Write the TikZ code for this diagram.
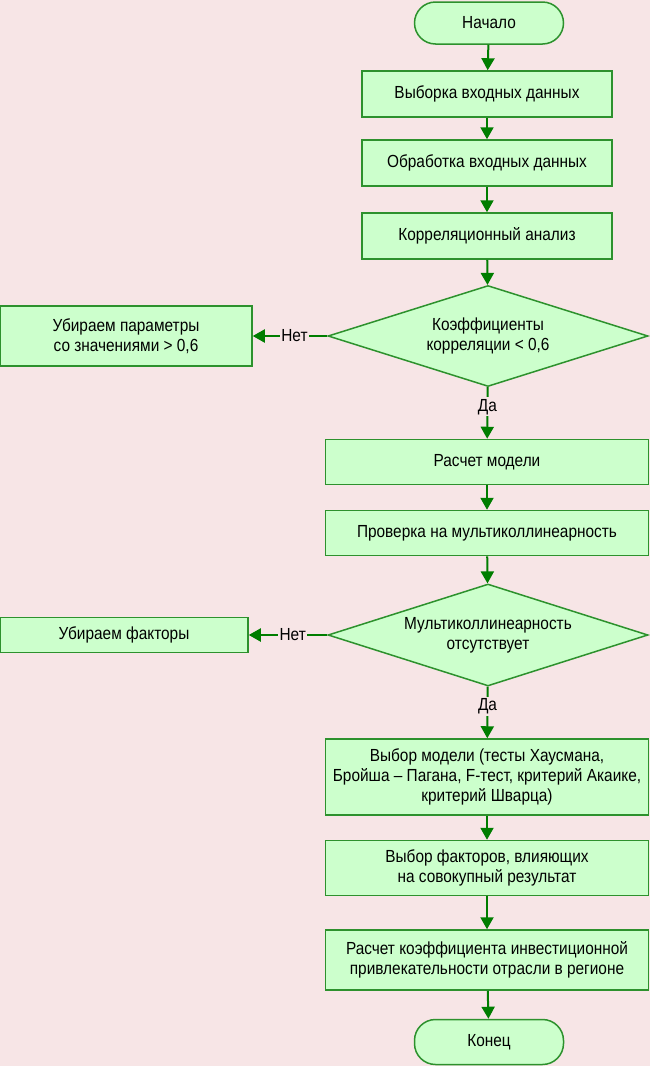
\documentclass[tikz,border=0pt]{standalone}
\usepackage{fontspec}
\setmainfont{Liberation Sans}[FakeStretch=0.88]
\usetikzlibrary{shapes.geometric, arrows.meta, positioning, calc}
\definecolor{bgpink}{RGB}{247,229,230}
\definecolor{boxfill}{RGB}{204,255,204}
\definecolor{boxline}{RGB}{45,145,45}
\definecolor{arrowgreen}{RGB}{0,125,0}

\begin{document}
\begin{tikzpicture}[x=1pt, y=-1pt,
    font=\fontsize{17.5}{20}\selectfont,
    block/.style={draw=boxline, fill=boxfill, line width=1.5pt, align=center, inner sep=0pt},
    term/.style={block, rounded corners=21pt},
    decision/.style={block, diamond, aspect=3.2},
    flow/.style={draw=arrowgreen, line width=2pt, -{Triangle[length=12pt, width=13pt]}},
    lbl/.style={fill=bgpink, inner sep=1.5pt, text=black}]

% Background and frame
\fill[bgpink] (0,0) rectangle (650,1066);
\useasboundingbox (0,0) rectangle (650,1066);

% Main column
\node[term, minimum width=149pt, minimum height=42pt] (start) at (489,23) {Начало};
\node[block, minimum width=250pt, minimum height=46pt] (sample) at (487,94) {Выборка входных данных};
\node[block, minimum width=250pt, minimum height=46pt] (prep) at (487,163) {Обработка входных данных};
\node[block, minimum width=250pt, minimum height=46pt] (corr) at (487,236) {Корреляционный анализ};
\node[decision, minimum width=320pt, minimum height=101pt] (check1) at (488,336) {Коэффициенты\\корреляции < 0,6};
\node[block, minimum width=323pt, minimum height=45pt] (model) at (487,462) {Расчет модели};
\node[block, minimum width=323pt, minimum height=45pt] (multi) at (487,533) {Проверка на мультиколлинеарность};
\node[decision, minimum width=320pt, minimum height=102pt] (check2) at (488,635) {Мультиколлинеарность\\отсутствует};
\node[block, minimum width=323pt, minimum height=76pt] (choice) at (487,777) {Выбор модели (тесты Хаусмана,\\Бройша -- Пагана, F-тест, критерий Акаике,\\критерий Шварца)};
\node[block, minimum width=323pt, minimum height=55pt] (factors) at (487,868) {Выбор факторов, влияющих\\на совокупный результат};
\node[block, minimum width=323pt, minimum height=60pt] (coef) at (487,960) {Расчет коэффициента инвестиционной\\привлекательности отрасли в регионе};
\node[term, minimum width=149pt, minimum height=45pt] (stop) at (489,1042) {Конец};

% Side branches
\node[block, minimum width=252pt, minimum height=60pt] (drop1) at (126,336) {Убираем параметры\\со значениями > 0,6};
\node[block, minimum width=248pt, minimum height=35pt] (drop2) at (124,635) {Убираем факторы};

% Connectors
\draw[flow] (start) -- (sample);
\draw[flow] (sample) -- (prep);
\draw[flow] (prep) -- (corr);
\draw[flow] (corr) -- (check1);
\draw[flow] (check1) -- node[lbl, pos=0.38] {Да} (model);
\draw[flow] (check1.west) -- node[lbl, pos=0.44] {Нет} (drop1.east);
\draw[flow] (model) -- (multi);
\draw[flow] (multi) -- (check2);
\draw[flow] (check2) -- node[lbl, pos=0.38] {Да} (choice);
\draw[flow] (check2.west) -- node[lbl, pos=0.44] {Нет} (drop2.east);
\draw[flow] (choice) -- (factors);
\draw[flow] (factors) -- (coef);
\draw[flow] (coef) -- (stop);
\end{tikzpicture}
\end{document}
